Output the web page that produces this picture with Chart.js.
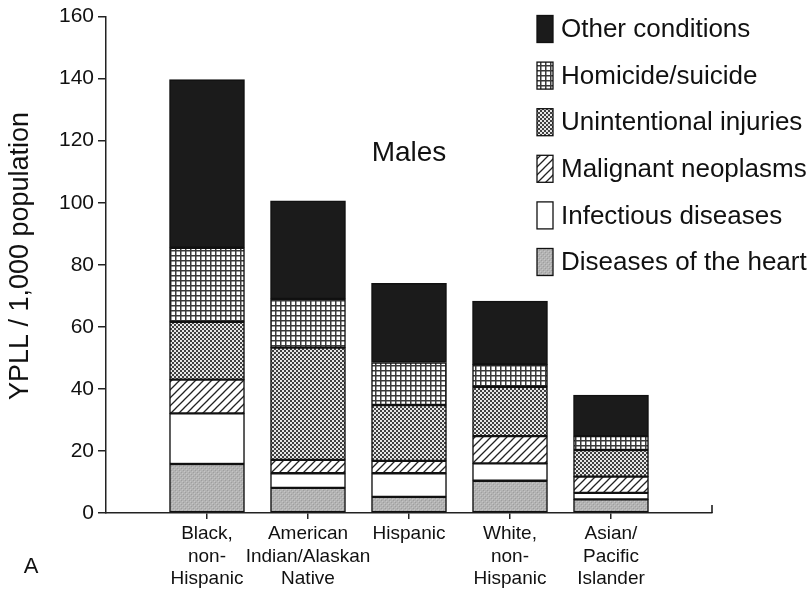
<!DOCTYPE html>
<html>
<head>
<meta charset="utf-8">
<script src="https://cdn.jsdelivr.net/npm/chart.js@4.4.1/dist/chart.umd.min.js"></script>
<style>
  body { margin: 0; background: #fff; }
  #wrap { width: 811px; height: 590px; }
</style>
</head>
<body>
<div id="wrap"><canvas id="myChart" width="811" height="590"></canvas></div>
<script>
// categories (bottom axis), one label per bar, split into lines
const groups = [
    ["Black,", "non-", "Hispanic"],
    ["American", "Indian/Alaskan", "Native"],
    ["Hispanic"],
    ["White,", "non-", "Hispanic"],
    ["Asian/", "Pacific", "Islander"]
];

// YPLL per 1,000 (bottom segment first)
const heart         = [15.8, 8.1, 5.2, 10.4, 4.4];
const infectious    = [16.3, 4.7, 7.6, 5.6, 2.1];
const malignant     = [10.9, 4.3, 4.0, 8.8, 5.2];
const unintentional = [18.6, 36.2, 18.0, 15.9, 8.6];
const homicide      = [23.9, 15.7, 13.7, 7.2, 4.5];
const other         = [54.2, 31.6, 25.5, 20.4, 13.2];

const yTicks = [0, 20, 40, 60, 80, 100, 120, 140, 160];
const FONT = "'Liberation Sans', Arial, Helvetica, sans-serif";

function makePattern(size, draw) {
    let c = document.createElement("canvas");
    c.width = size;
    c.height = size;
    let g = c.getContext("2d");
    draw(g, size);
    return g.createPattern(c, "repeat");
}

const fills = {
    heart: makePattern(4, (g, s) => {
        g.fillStyle = "#b3b3b3";
        g.fillRect(0, 0, s, s);
        g.fillStyle = "#9e9e9e";
        g.fillRect(1, 0, 1, 1);
        g.fillRect(3, 2, 1, 1);
        g.fillStyle = "#c6c6c6";
        g.fillRect(0, 3, 1, 1);
        g.fillRect(2, 1, 1, 1);
    }),
    infectious: "#ffffff",
    malignant: makePattern(8, (g, s) => {
        g.fillStyle = "#fff";
        g.fillRect(0, 0, s, s);
        g.strokeStyle = "#222";
        g.lineWidth = 1.3;
        g.beginPath();
        g.moveTo(-1, s + 1); g.lineTo(s + 1, -1);
        g.moveTo(-1, 1); g.lineTo(1, -1);
        g.moveTo(s - 1, s + 1); g.lineTo(s + 1, s - 1);
        g.stroke();
    }),
    unintentional: makePattern(4, (g, s) => {
        g.fillStyle = "#404040";
        g.fillRect(0, 0, s, s);
        g.fillStyle = "#e6e6e6";
        g.fillRect(0, 0, 2, 2);
        g.fillRect(2, 2, 2, 2);
    }),
    homicide: makePattern(5, (g, s) => {
        g.fillStyle = "#fff";
        g.fillRect(0, 0, s, s);
        g.fillStyle = "#3a3a3a";
        g.fillRect(0, 0, s, 1.5);
        g.fillRect(0, 0, 1.5, s);
    }),
    other: "#1b1b1b"
};

function series(label, values, fill) {
    return {
        label: label,
        data: values.map((v, i) => ({x: i + 1, y: v})),
        backgroundColor: fill,
        borderColor: "#111",
        borderWidth: 1.5,
        borderSkipped: false,
        barThickness: 75
    };
}

const extras = {
    id: "extras",
    afterDraw(chart) {
        const ctx = chart.ctx;
        const area = chart.chartArea;
        const xs = chart.scales.x;
        ctx.save();
        ctx.fillStyle = "#111";
        ctx.strokeStyle = "#111";

        // small upward tick at the right end of the x axis
        ctx.lineWidth = 1.5;
        ctx.beginPath();
        ctx.moveTo(xs.getPixelForValue(6), area.bottom);
        ctx.lineTo(xs.getPixelForValue(6), area.bottom - 8);
        ctx.stroke();

        // legend, top item = top of the stack
        const sets = chart.data.datasets.slice().reverse();
        ctx.font = "26px " + FONT;
        ctx.textBaseline = "middle";
        ctx.textAlign = "left";
        sets.forEach((ds, i) => {
            let cy = 29 + i * 46.6;
            ctx.fillStyle = ds.backgroundColor;
            ctx.fillRect(537, cy - 13.5, 16, 27);
            ctx.lineWidth = 1.3;
            ctx.strokeRect(537, cy - 13.5, 16, 27);
            ctx.fillStyle = "#111";
            ctx.fillText(ds.label, 561, cy + 1);
        });

        // panel title and letter
        ctx.font = "28px " + FONT;
        ctx.textAlign = "center";
        ctx.fillText("Males", 409, 153);
        ctx.font = "22px " + FONT;
        ctx.fillText("A", 31, 567);

        // y axis title
        ctx.font = "27px " + FONT;
        ctx.translate(21, 256);
        ctx.rotate(-Math.PI / 2);
        ctx.fillText("YPLL / 1,000 population", 0, 0);
        ctx.restore();
    }
};

new Chart(document.getElementById("myChart").getContext("2d"), {
    type: "bar",
    data: {
        datasets: [
            series("Diseases of the heart", heart, fills.heart),
            series("Infectious diseases", infectious, fills.infectious),
            series("Malignant neoplasms", malignant, fills.malignant),
            series("Unintentional injuries", unintentional, fills.unintentional),
            series("Homicide/suicide", homicide, fills.homicide),
            series("Other conditions", other, fills.other)
        ]
    },
    options: {
        responsive: false,
        animation: false,
        layout: { padding: { top: 4, right: 99, bottom: 0, left: 0 } },
        plugins: {
            legend: { display: false },
            tooltip: { enabled: false }
        },
        scales: {
            x: {
                type: "linear",
                stacked: true,
                offset: false,
                min: 0,
                max: 6,
                afterBuildTicks: s => { s.ticks = groups.map((g, i) => ({value: i + 1})); },
                afterFit: s => { s.height = 77; },
                ticks: {
                    autoSkip: false,
                    maxRotation: 0,
                    padding: 4,
                    color: "#111",
                    font: { family: FONT, size: 19, lineHeight: 1.18 },
                    callback: v => groups[v - 1] || ""
                },
                grid: { drawOnChartArea: false, offset: false, tickLength: 6, color: "#222", lineWidth: 1.5 },
                border: { color: "#222", width: 1.5 }
            },
            y: {
                stacked: true,
                min: 0,
                max: 160,
                afterBuildTicks: s => { s.ticks = yTicks.map(v => ({value: v})); },
                afterFit: s => { s.width = 106; },
                ticks: {
                    padding: 4,
                    color: "#111",
                    font: { family: FONT, size: 21 }
                },
                grid: { drawOnChartArea: false, tickLength: 8, color: "#222", lineWidth: 1.5 },
                border: { color: "#222", width: 1.5 }
            }
        }
    },
    plugins: [extras]
});
</script>
</body>
</html>
